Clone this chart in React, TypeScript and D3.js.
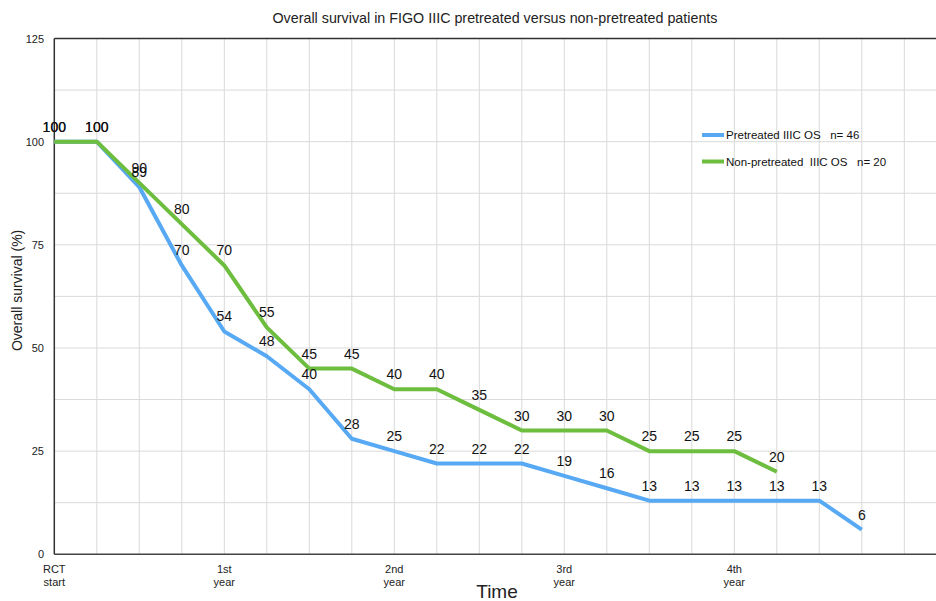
import React from 'react';
import * as d3 from 'd3';

// Overall survival (%) at each time step
const pretreated = [100, 100, 89, 70, 54, 48, 40, 28, 25, 22, 22, 22, 19, 16, 13, 13, 13, 13, 13, 6];
const nonPretreated = [100, 100, 90, 80, 70, 55, 45, 45, 40, 40, 35, 30, 30, 30, 25, 25, 25, 20];

const xTickLabels: Array<[number, string[]]> = [
  [0, ['RCT', 'start']],
  [4, ['1st', 'year']],
  [8, ['2nd', 'year']],
  [12, ['3rd', 'year']],
  [16, ['4th', 'year']],
];
const yTicks = [0, 25, 50, 75, 100, 125];

const series = [
  { name: 'Pretreated IIIC OS   n= 46', values: pretreated, color: '#57a9f4' },
  { name: 'Non-pretreated  IIIC OS   n= 20', values: nonPretreated, color: '#6dbd3f' },
];

const W = 936;
const H = 601;
const font = 'Arial, "Liberation Sans", sans-serif';

const App: React.FC = () => {
  const left = 54.3;
  const top = 38.5;
  const bottom = 554.3;

  // 22 columns, the last one falls outside the picture
  const x = d3.scaleLinear().domain([0, 21]).range([left, left + 42.5 * 21]);
  const y = d3.scaleLinear().domain([0, 125]).range([bottom, top]);

  const line = d3.line<number>()
    .x((_, i) => x(i))
    .y(d => y(d));

  const gridX = d3.range(1, 22);
  const gridY = d3.range(12.5, 125, 12.5);

  return (
    <svg width={W} height={H} style={{ display: 'block', position: 'absolute', left: 0, top: 0 }} fontFamily={font}>
      <rect width={W} height={H} fill="#fff" />

      <text x={495} y={23} textAnchor="middle" fontSize={14.3} fill="#222">
        Overall survival in FIGO IIIC pretreated versus non-pretreated patients
      </text>

      {/* grid */}
      {gridX.map(i => (
        <line key={'gx' + i} x1={x(i)} x2={x(i)} y1={top} y2={bottom} stroke="#d9d9d9" strokeWidth={1} />
      ))}
      {gridY.map(v => (
        <line key={'gy' + v} x1={left} x2={W} y1={y(v)} y2={y(v)} stroke="#d9d9d9" strokeWidth={1} />
      ))}

      {/* frame */}
      <line x1={left} x2={W} y1={top} y2={top} stroke="#333" strokeWidth={1.5} />
      <line x1={left} x2={W} y1={bottom} y2={bottom} stroke="#444" strokeWidth={1.5} />
      <line x1={left} x2={left} y1={top} y2={bottom} stroke="#333" strokeWidth={1.5} />

      {/* y ticks */}
      {yTicks.map(v => (
        <text key={'yt' + v} x={44} y={y(v) + 4} textAnchor="end" fontSize={11} fill="#222">{v}</text>
      ))}

      {/* x ticks */}
      {xTickLabels.map(([i, lines]) => (
        <text key={'xt' + i} x={x(i)} textAnchor="middle" fontSize={11} fill="#222">
          {lines.map((s, k) => (
            <tspan key={k} x={x(i)} y={573 + k * 13}>{s}</tspan>
          ))}
        </text>
      ))}

      <text transform={`translate(21.5,${(top + bottom) / 2 - 6}) rotate(-90)`} textAnchor="middle" fontSize={14} fill="#222">
        Overall survival (%)
      </text>
      <text x={497} y={598} textAnchor="middle" fontSize={19} fill="#222">Time</text>

      {/* lines */}
      {series.map(s => (
        <path key={s.name} d={line(s.values) || ''} fill="none" stroke={s.color} strokeWidth={4} strokeLinejoin="round" />
      ))}

      {/* value labels */}
      {series.map(s => s.values.map((v, i) => (
        <text key={s.name + i} x={x(i)} y={y(v) - 10} textAnchor="middle" fontSize={14} fill="#111">{v}</text>
      )))}

      {/* legend */}
      {series.map((s, k) => (
        <g key={'lg' + k} transform={`translate(702,${135 + k * 26.5})`}>
          <line x1={0} x2={22} y1={0} y2={0} stroke={s.color} strokeWidth={4} />
          <text x={24} y={4} fontSize={11.5} fill="#111" style={{ whiteSpace: 'pre' }}>{s.name}</text>
        </g>
      ))}
    </svg>
  );
};

export default App;
